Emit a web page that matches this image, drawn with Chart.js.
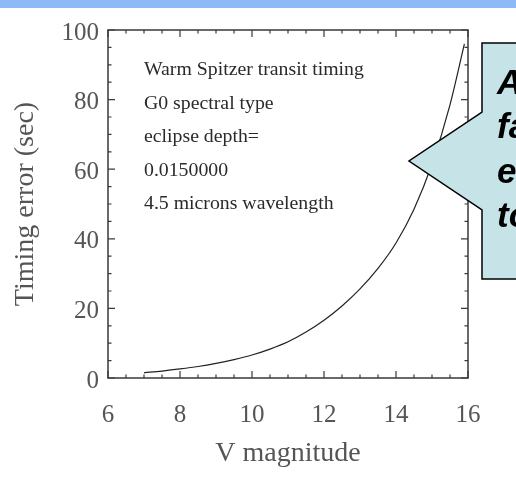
<!DOCTYPE html>
<html>
<head>
<meta charset="utf-8">
<script src="https://cdn.jsdelivr.net/npm/chart.js@4/dist/chart.umd.min.js"></script>
<style>
    html, body { margin: 0; padding: 0; background: #ffffff; }
    #chart { display: block; }
</style>
</head>
<body>
<canvas id="chart" width="516" height="483"></canvas>
<script>
// ── Data ──────────────────────────────────────────────────────────────
const magnitudes = [7, 7.5, 8, 8.5, 9, 9.5, 10, 10.5, 11, 11.5, 12, 12.5, 13, 13.5, 14, 14.5, 15, 15.5, 15.9];
const timingError = [1.5, 2.0, 2.6, 3.3, 4.2, 5.3, 6.6, 8.3, 10.4, 13.2, 16.6, 20.7, 25.6, 31.5, 38.8, 48.5, 61.5, 78.5, 96];

const xTicks = [6, 8, 10, 12, 14, 16];
const yTicks = [0, 20, 40, 60, 80, 100];

const notes = ['Warm Spitzer transit timing', 'G0 spectral type', 'eclipse depth=', '0.0150000', '4.5 microns wavelength'];
const calloutLines = ['A', 'fa', 'e', 'to'];

const SERIF = '"Liberation Serif", "Times New Roman", serif';
const SANS = '"Liberation Sans", Arial, sans-serif';
const LABEL_GREY = '#555555';

/* ── Slide backdrop: blue strip on top ─────────────────────────────── */
const backdrop = {
    id: 'backdrop',
    beforeDraw(chart) {
        const ctx = chart.ctx;
        ctx.save();
        ctx.fillStyle = '#ffffff';
        ctx.fillRect(0, 0, chart.width, chart.height);
        ctx.fillStyle = '#8bbaf7';
        ctx.fillRect(0, 0, chart.width, 8);
        ctx.restore();
    }
};

/* ── IDL style box with inward ticks on all four sides ─────────────── */
const idlBox = {
    id: 'idlBox',
    afterDatasetsDraw(chart) {
        const { ctx, chartArea: a, scales: { x, y } } = chart;
        ctx.save();
        ctx.strokeStyle = '#3a3a3a';
        ctx.lineWidth = 1.5;
        ctx.strokeRect(a.left, a.top, a.right - a.left, a.bottom - a.top);

        ctx.lineWidth = 1.2;
        ctx.beginPath();
        for (let v = x.min; v <= x.max + 1e-9; v += 0.5) {
            const px = x.getPixelForValue(v);
            const len = (v % 2 === 0) ? 7 : 3.5;
            ctx.moveTo(px, a.bottom); ctx.lineTo(px, a.bottom - len);
            ctx.moveTo(px, a.top); ctx.lineTo(px, a.top + len);
        }
        for (let v = y.min; v <= y.max + 1e-9; v += 5) {
            const py = y.getPixelForValue(v);
            const len = (v % 20 === 0) ? 7 : 3.5;
            ctx.moveTo(a.left, py); ctx.lineTo(a.left + len, py);
            ctx.moveTo(a.right, py); ctx.lineTo(a.right - len, py);
        }
        ctx.stroke();
        ctx.restore();
    }
};

/* ── Legend text inside the plot + the slide callout ───────────────── */
const overlay = {
    id: 'overlay',
    afterDraw(chart) {
        const ctx = chart.ctx;
        ctx.save();

        ctx.fillStyle = '#2a2a2a';
        ctx.font = '19.8px ' + SERIF;
        ctx.textAlign = 'left';
        ctx.textBaseline = 'alphabetic';
        notes.forEach((t, i) => ctx.fillText(t, 144, 75 + i * 33.5));

        // callout shape (runs off the right edge)
        ctx.beginPath();
        ctx.moveTo(482, 43);
        ctx.lineTo(530, 43);
        ctx.lineTo(530, 279);
        ctx.lineTo(482, 279);
        ctx.lineTo(482, 210);
        ctx.lineTo(409, 161);
        ctx.lineTo(482, 112);
        ctx.closePath();
        ctx.fillStyle = '#c6e4e8';
        ctx.fill();
        ctx.strokeStyle = '#000000';
        ctx.lineWidth = 1.5;
        ctx.stroke();

        ctx.fillStyle = '#000000';
        ctx.font = 'italic bold 35px ' + SANS;
        calloutLines.forEach((t, i) => ctx.fillText(t, 497, 93.5 + i * 44.5));

        ctx.restore();
    }
};

const ctx = document.getElementById('chart');

new Chart(ctx, {
    type: 'line',
    data: {
        datasets: [{
            data: magnitudes.map((m, i) => ({ x: m, y: timingError[i] })),
            borderColor: '#222222',
            borderWidth: 1.2,
            pointRadius: 0,
            fill: false,
            cubicInterpolationMode: 'monotone'
        }]
    },
    options: {
        responsive: false,
        animation: false,
        devicePixelRatio: 1,
        layout: { padding: { left: 0, top: 30, right: 48, bottom: 0 } },
        plugins: {
            legend: { display: false },
            tooltip: { enabled: false }
        },
        scales: {
            x: {
                type: 'linear',
                min: 6,
                max: 16,
                afterBuildTicks: (s) => { s.ticks = xTicks.map(v => ({ value: v })); },
                afterFit: (s) => { s.height = 105; },
                grid: { display: false, drawTicks: false },
                border: { display: false },
                ticks: {
                    color: LABEL_GREY,
                    font: { family: SERIF, size: 25 },
                    padding: 22,
                    maxRotation: 0
                },
                title: {
                    display: true,
                    text: 'V magnitude',
                    color: LABEL_GREY,
                    font: { family: SERIF, size: 28 },
                    padding: { top: 0, bottom: 13 }
                }
            },
            y: {
                min: 0,
                max: 100,
                afterBuildTicks: (s) => { s.ticks = yTicks.map(v => ({ value: v })); },
                afterFit: (s) => { s.width = 108; },
                grid: { display: false, drawTicks: false },
                border: { display: false },
                ticks: {
                    color: LABEL_GREY,
                    font: { family: SERIF, size: 25 },
                    padding: 9,
                    labelOffset: 3
                },
                title: {
                    display: true,
                    text: 'Timing error (sec)',
                    color: LABEL_GREY,
                    font: { family: SERIF, size: 28 },
                    padding: { top: 9, bottom: 0 }
                }
            }
        }
    },
    plugins: [backdrop, idlBox, overlay]
});
</script>
</body>
</html>
